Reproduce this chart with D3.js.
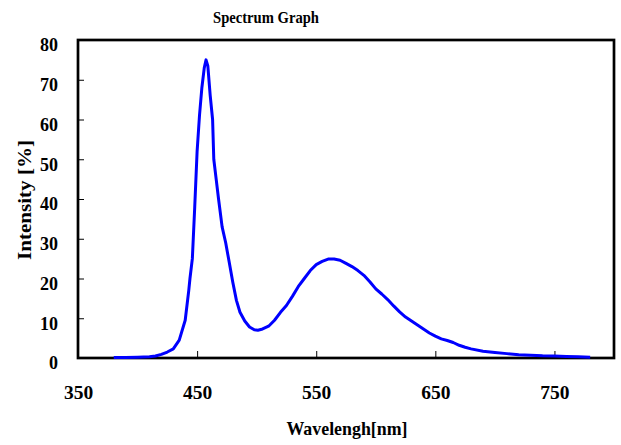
<!DOCTYPE html>
<html lang="en">
<head>
<meta charset="UTF-8">
<title>Spectrum Graph</title>
<script src="https://d3js.org/d3.v7.min.js"></script>
<style>
  body { margin: 0; background: #fff; }
  text { font-family: "Liberation Serif", "Times New Roman", serif; font-weight: bold; fill: #000; }
</style>
</head>
<body>
<script>
// wavelength (nm) and relative intensity (%)
var wavelength = [380, 390, 400, 410, 415, 420, 425, 430, 435, 440, 443, 444, 446, 448, 450, 452, 454, 456, 457.5, 459, 461, 463, 464, 466, 468, 471, 474, 477, 480, 483, 486, 490, 494, 498, 501, 505, 510, 515, 520, 525, 530, 535, 540, 545, 550, 555, 560, 565, 570, 575, 580, 585, 590, 595, 600, 605, 610, 615, 620, 625, 630, 635, 640, 645, 650, 655, 660, 665, 670, 675, 680, 690, 700, 710, 720, 730, 740, 750, 760, 770, 780];
var intensity = [0.1, 0.1, 0.2, 0.3, 0.5, 0.9, 1.5, 2.3, 4.5, 9.5, 17, 20, 25, 38, 52, 61, 68, 73, 75, 73.5, 66, 60, 50, 45, 40, 33, 29, 24, 19, 14.5, 11.5, 9.3, 7.8, 7.1, 7.0, 7.3, 8.0, 9.5, 11.5, 13.2, 15.5, 18, 20, 22, 23.5, 24.3, 24.9, 24.9, 24.6, 23.8, 23.0, 22, 20.8, 19.2, 17.4, 16.1, 14.7, 13.1, 11.6, 10.3, 9.3, 8.3, 7.3, 6.3, 5.5, 4.8, 4.4, 3.9, 3.2, 2.7, 2.3, 1.7, 1.4, 1.1, 0.8, 0.7, 0.55, 0.5, 0.4, 0.3, 0.2];
var xTicks = [350, 450, 550, 650, 750];
var yTicks = [0, 10, 20, 30, 40, 50, 60, 70, 80];

var W = 621, H = 445;
var pLeft = 78, pRight = 614, pTop = 40, pBottom = 358;

var svg = d3.select("body").append("svg").attr("width", W).attr("height", H);
svg.append("rect").attr("width", W).attr("height", H).attr("fill", "#fff");

var x = d3.scaleLinear().domain([350, 800]).range([pLeft, pRight]);
var y = d3.scaleLinear().domain([0, 80]).range([pBottom, pTop]);

// y axis, ticks pointing inward
var gy = svg.append("g").attr("transform", "translate(" + pLeft + ",0)")
  .call(d3.axisLeft(y).tickValues(yTicks).tickSize(-6).tickPadding(20));
gy.select(".domain").remove();
gy.selectAll(".tick line").attr("stroke", "#000").attr("stroke-width", 1);
gy.selectAll(".tick text").attr("font-size", "18px").attr("dy", "0.6em")
  .attr("font-family", "Liberation Serif").attr("font-weight", "bold");

// x axis
var gx = svg.append("g").attr("transform", "translate(0," + pBottom + ")")
  .call(d3.axisBottom(x).tickValues(xTicks).tickSize(-7).tickPadding(27));
gx.select(".domain").remove();
gx.selectAll(".tick line").attr("stroke", "#000").attr("stroke-width", 1);
gx.selectAll(".tick text").attr("font-size", "19.5px")
  .attr("font-family", "Liberation Serif").attr("font-weight", "bold");

// plot frame
svg.append("rect")
  .attr("x", pLeft).attr("y", pTop)
  .attr("width", pRight - pLeft).attr("height", pBottom - pTop)
  .attr("fill", "none").attr("stroke", "#000").attr("stroke-width", 2.7);

var pts = wavelength.map(function(d, i) { return [d, intensity[i]]; });
var line = d3.line().x(function(d) { return x(d[0]); }).y(function(d) { return y(d[1]); });
svg.append("path").datum(pts)
  .attr("d", line)
  .attr("fill", "none")
  .attr("stroke", "#0000ff")
  .attr("stroke-width", 3)
  .attr("stroke-linejoin", "round");

// titles
svg.append("text").attr("x", 266).attr("y", 23).attr("text-anchor", "middle")
  .attr("font-size", "17px").attr("textLength", 106).attr("lengthAdjust", "spacingAndGlyphs")
  .text("Spectrum Graph");
svg.append("text").attr("x", 347).attr("y", 435).attr("text-anchor", "middle")
  .attr("font-size", "19px").attr("textLength", 121).attr("lengthAdjust", "spacingAndGlyphs")
  .text("Wavelengh[nm]");
svg.append("text").attr("transform", "translate(31,200) rotate(-90)").attr("text-anchor", "middle")
  .attr("font-size", "19px").attr("textLength", 120).attr("lengthAdjust", "spacingAndGlyphs")
  .text("Intensity [%]");
</script>
</body>
</html>
